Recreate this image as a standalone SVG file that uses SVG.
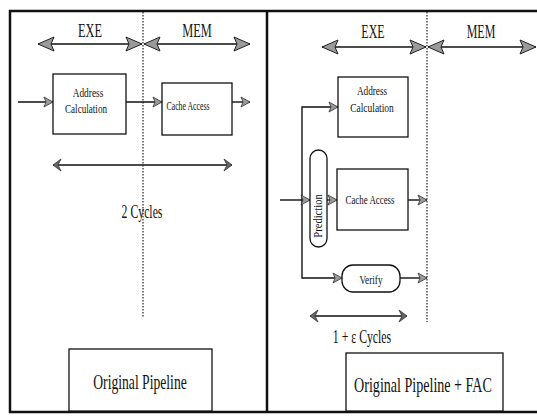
<svg xmlns="http://www.w3.org/2000/svg" width="537" height="416" viewBox="0 0 537 416">
<defs>
<marker id="big" viewBox="-17 -8 18 16" markerWidth="18" markerHeight="16" refX="0" refY="0" markerUnits="userSpaceOnUse" orient="auto-start-reverse">
<path d="M0,0 L-16,-7 L-13,0 L-16,7 Z" fill="#9a9a9a" stroke="#222" stroke-width="1"/>
</marker>
<marker id="small" viewBox="-10 -6 11 12" markerWidth="11" markerHeight="12" refX="0" refY="0" markerUnits="userSpaceOnUse" orient="auto-start-reverse">
<path d="M0,0 L-9,-5 L-7,0 L-9,5 Z" fill="#9a9a9a" stroke="#333" stroke-width="0.8"/>
</marker>
<marker id="chev" viewBox="-10 -7 11 14" markerWidth="11" markerHeight="14" refX="0" refY="0" markerUnits="userSpaceOnUse" orient="auto-start-reverse">
<path d="M0,0 L-8,-6 L-5,0 L-8,6 Z" fill="#666" stroke="#333" stroke-width="0.8"/>
</marker>
</defs>
<style>
.frame{fill:none;stroke:#111;stroke-width:2.5}
.box{fill:#fff;stroke:#111;stroke-width:1.3}
.dot{stroke:#222;stroke-width:1.2;stroke-dasharray:1.5 1.5;fill:none}
.ln{stroke:#111;stroke-width:1.4;fill:none}
.t{font-family:"Liberation Serif","Times New Roman",serif;fill:#111;text-anchor:middle}
.s{font-size:12px}
.m{font-size:19px}
.l{font-size:22px}
</style>
<rect width="537" height="416" fill="#fff"/>
<g id="frame">
<path class="frame" d="M539,11 L10,11 L10,412 L539,412"/>
<line class="frame" x1="267" y1="11" x2="267" y2="412" stroke-width="2"/>
<line class="dot" x1="143" y1="12" x2="143" y2="318"/>
<line class="dot" x1="427" y1="12" x2="427" y2="322"/>
</g>
<g id="connectors">
<line class="ln" x1="38" y1="44" x2="142" y2="44" marker-start="url(#big)" marker-end="url(#big)"/>
<line class="ln" x1="144" y1="44" x2="250" y2="44" marker-start="url(#big)" marker-end="url(#big)"/>
<line class="ln" x1="18" y1="102" x2="53" y2="102" marker-end="url(#small)"/>
<line class="ln" x1="126" y1="102" x2="162" y2="102" marker-end="url(#small)"/>
<line class="ln" x1="232" y1="102" x2="250" y2="102" marker-end="url(#small)"/>
<line class="ln" x1="53" y1="165" x2="232" y2="165" stroke-width="1.6" marker-start="url(#chev)" marker-end="url(#chev)"/>
<line class="ln" x1="322" y1="47" x2="426" y2="47" marker-start="url(#big)" marker-end="url(#big)"/>
<line class="ln" x1="428" y1="47" x2="536" y2="47" marker-start="url(#big)" marker-end="url(#big)"/>
<path class="ln" d="M302,200 L302,107 L338,107" marker-end="url(#small)"/>
<path class="ln" d="M302,200 L302,278 L342,278" marker-end="url(#small)"/>
<line class="ln" x1="280" y1="200" x2="310" y2="200" marker-end="url(#small)"/>
<line class="ln" x1="327" y1="200" x2="337" y2="200" marker-end="url(#small)"/>
<line class="ln" x1="408" y1="200" x2="427" y2="200" marker-end="url(#small)"/>
<line class="ln" x1="400" y1="278" x2="427" y2="278" marker-end="url(#small)"/>
<line class="ln" x1="310" y1="316" x2="407" y2="316" stroke-width="1.6" marker-start="url(#chev)" marker-end="url(#chev)"/>
</g>
<g id="labels">
<text class="t m" transform="translate(90,37) scale(0.65,1)">EXE</text>
<text class="t m" transform="translate(197,37) scale(0.65,1)">MEM</text>
<text class="t m" transform="translate(373,38) scale(0.63,1)">EXE</text>
<text class="t m" transform="translate(481,38) scale(0.63,1)">MEM</text>
<text class="t m" transform="translate(142,218) scale(0.62,1)">2 Cycles</text>
<text class="t m" transform="translate(362,343) scale(0.62,1)">1 + ε Cycles</text>
</g>
<g id="addr-left">
<rect class="box" x="53" y="74" width="73" height="60"/>
<text class="t s" transform="translate(88,97) scale(0.78,1)">Address</text>
<text class="t s" transform="translate(86,113) scale(0.76,1)">Calculation</text>
</g>
<g id="cache-left">
<rect class="box" x="162" y="83" width="70" height="52"/>
<text class="t s" transform="translate(188,110) scale(0.65,1)">Cache Access</text>
</g>
<g id="addr-right">
<rect class="box" x="338" y="77" width="70" height="60"/>
<text class="t s" transform="translate(372,95) scale(0.77,1)">Address</text>
<text class="t s" transform="translate(372,112) scale(0.79,1)">Calculation</text>
</g>
<g id="prediction">
<rect class="box" x="310" y="150" width="17" height="97" rx="8.5"/>
<text class="t s" transform="translate(322,216) rotate(-90) scale(0.88,1)">Prediction</text>
</g>
<g id="cache-right">
<rect class="box" x="337" y="169" width="71" height="61"/>
<text class="t s" transform="translate(370,204) scale(0.74,1)">Cache Access</text>
</g>
<g id="verify">
<rect class="box" x="342" y="265" width="58" height="27" rx="11"/>
<text class="t s" transform="translate(371,284) scale(0.77,1)">Verify</text>
</g>
<g id="orig">
<rect class="box" x="69" y="349" width="143" height="62"/>
<text class="t l" transform="translate(140,389) scale(0.62,1)">Original Pipeline</text>
</g>
<g id="orig-fac">
<rect class="box" x="346" y="353" width="157" height="58"/>
<text class="t l" transform="translate(423,392) scale(0.64,1)">Original Pipeline + FAC</text>
</g>
</svg>
